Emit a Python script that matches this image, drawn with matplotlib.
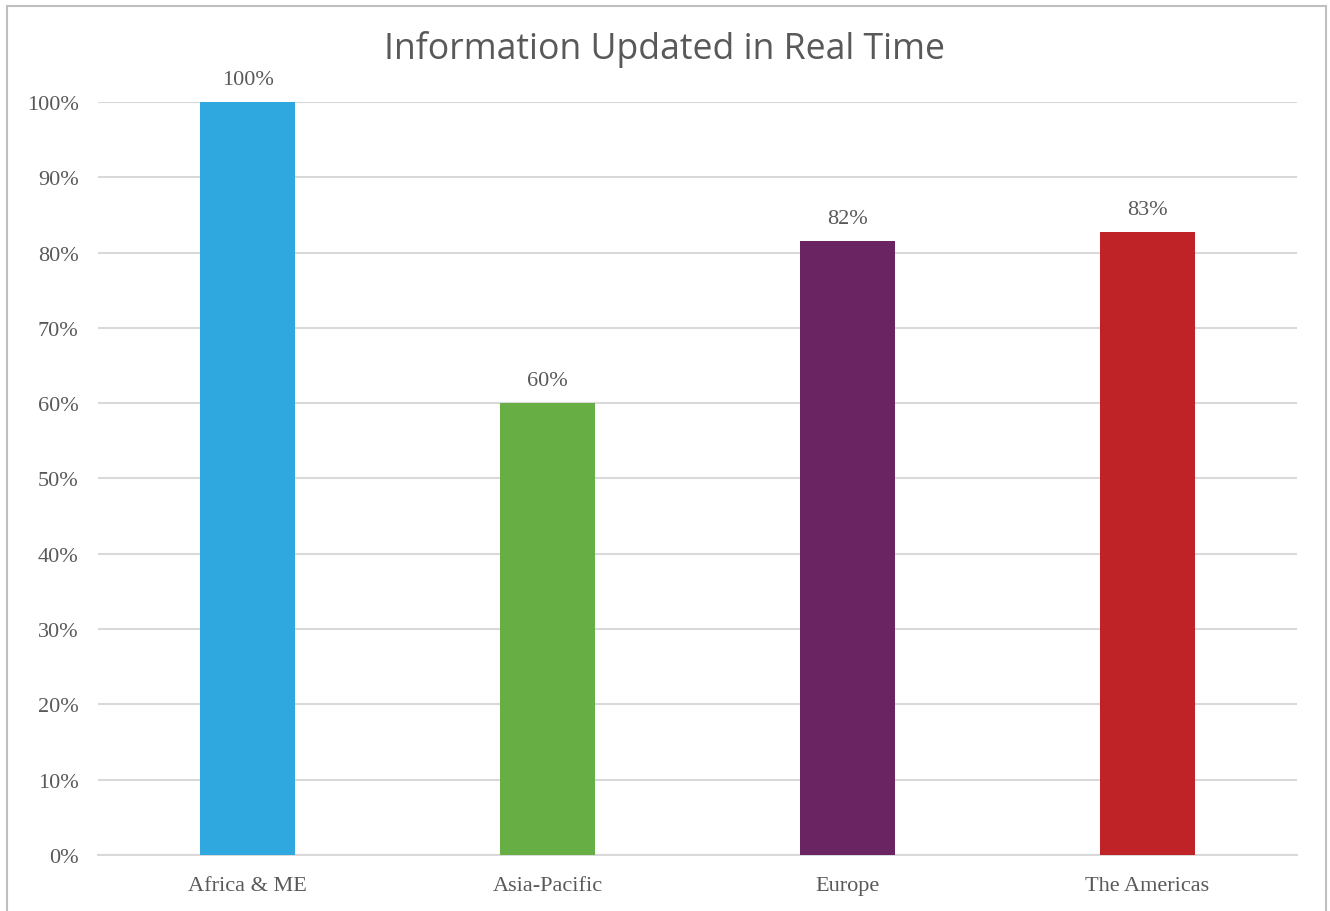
import matplotlib.pyplot as plt
from matplotlib.patches import Rectangle
from matplotlib.ticker import FuncFormatter, MultipleLocator

regions = ["Africa & ME", "Asia-Pacific", "Europe", "The Americas"]
shares = [100.0, 60.0, 81.6, 82.7]
bar_colors = ["#2FA7DF", "#67AE45", "#6A2462", "#C02327"]

text_grey = "#595959"
grid_grey = "#D9D9D9"
serif = ["Liberation Serif", "DejaVu Serif"]

fig = plt.figure(figsize=(13.3, 9.12), dpi=100)
ax = fig.add_axes([0.0737, 0.0614, 0.9015, 0.8257])

x = range(len(regions))
ax.bar(x, shares, width=0.317, color=bar_colors, zorder=3)

# value labels above each bar
for xi, v in zip(x, shares):
    ax.text(xi, v + 1.7, f"{v:.0f}%", ha="center", va="bottom",
            fontsize=16, color=text_grey, family=serif, clip_on=False)

ax.set_xlim(-0.5, len(regions) - 0.5)
ax.set_ylim(0, 100)
ax.yaxis.set_major_locator(MultipleLocator(10))
ax.yaxis.set_major_formatter(FuncFormatter(lambda v, _: f"{v:.0f}%"))
ax.set_xticks(list(x))
ax.set_xticklabels(regions)

ax.grid(axis="y", color=grid_grey, linewidth=1.5, zorder=0)
ax.set_axisbelow(True)
for side in ["top", "right", "left"]:
    ax.spines[side].set_visible(False)
ax.spines["bottom"].set_color(grid_grey)
ax.spines["bottom"].set_linewidth(1.5)

ax.tick_params(axis="both", length=0, labelsize=16, labelcolor=text_grey)
ax.tick_params(axis="y", pad=14)
ax.tick_params(axis="x", pad=15)
for lbl in ax.get_xticklabels() + ax.get_yticklabels():
    lbl.set_family(serif)

fig.text(0.5, 0.946, "Information Updated in Real Time", ha="center",
         va="center", fontsize=25.7, color=text_grey, family="Open Sans")

# thin frame around the whole chart
fig.patches.append(Rectangle((0.0053, -0.01), 0.9917, 1.002, transform=fig.transFigure,
                             fill=False, edgecolor="#BFBFBF", linewidth=1.5))

fig.savefig("out.png", dpi=100)
